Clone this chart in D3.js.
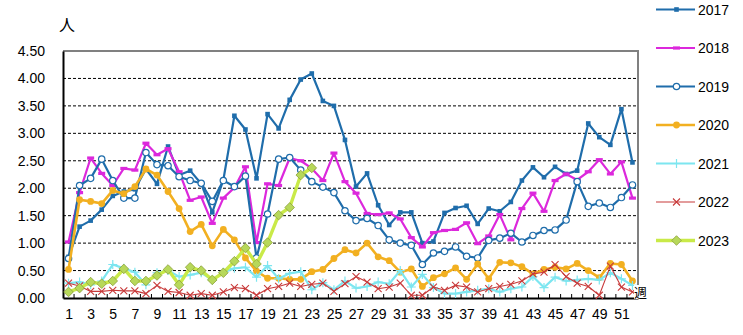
<!DOCTYPE html>
<html>
<head>
<meta charset="utf-8">
<script src="https://cdn.jsdelivr.net/npm/d3@7"></script>
<style>
  html, body { margin: 0; padding: 0; background: #fff; }
  svg { display: block; font-family: "Liberation Sans", Arial, sans-serif; }
</style>
</head>
<body>
<svg id="chart" width="743" height="335"></svg>
<script>
// Weekly counts per year (persons per week)
const weeks = d3.range(1, 53);
const weekLabels = d3.range(1, 53, 2);
const yTicks = [0, 0.5, 1, 1.5, 2, 2.5, 3, 3.5, 4, 4.5];
const years = ["2017", "2018", "2019", "2020", "2021", "2022", "2023"];

const v2017 = [0.75, 1.30, 1.41, 1.61, 1.86, 1.94, 1.98, 2.35, 2.08, 2.76, 2.24, 2.32, 2.08, 1.56, 2.15, 3.32, 3.07, 2.18, 3.35, 3.09, 3.61, 3.98, 4.09, 3.59, 3.50, 2.88, 2.03, 2.27, 1.69, 1.33, 1.56, 1.56, 1.00, 1.03, 1.55, 1.64, 1.68, 1.35, 1.63, 1.58, 1.75, 2.14, 2.38, 2.20, 2.39, 2.26, 2.32, 3.18, 2.93, 2.79, 3.44, 2.47];
const v2018 = [1.02, 1.92, 2.55, 2.27, 2.05, 2.36, 2.33, 2.82, 2.61, 2.72, 2.30, 1.78, 1.84, 1.36, 1.82, 2.01, 2.39, 1.01, 2.08, 2.05, 2.55, 2.50, 2.36, 2.14, 2.64, 2.12, 1.91, 1.54, 1.52, 1.55, 1.44, 1.10, 0.93, 1.19, 1.23, 1.25, 1.37, 0.99, 1.13, 1.52, 1.06, 1.63, 1.91, 1.58, 2.14, 2.26, 2.15, 2.30, 2.52, 2.26, 2.48, 1.82];
const v2019 = [0.72, 2.05, 2.18, 2.53, 2.14, 1.82, 1.82, 2.65, 2.43, 2.41, 2.21, 2.14, 2.09, 1.76, 2.14, 2.03, 2.22, 0.73, 1.53, 2.53, 2.56, 2.33, 2.12, 2.02, 1.92, 1.59, 1.41, 1.45, 1.32, 1.06, 1.00, 0.96, 0.61, 0.82, 0.85, 0.93, 0.76, 0.73, 1.05, 1.09, 1.18, 1.02, 1.14, 1.23, 1.24, 1.42, 2.12, 1.67, 1.73, 1.65, 1.83, 2.06];
const v2020 = [0.52, 1.79, 1.76, 1.72, 1.96, 1.90, 2.03, 2.35, 2.24, 1.94, 1.63, 1.21, 1.34, 0.95, 1.25, 1.06, 0.73, 0.49, 0.36, 0.36, 0.34, 0.34, 0.48, 0.52, 0.72, 0.88, 0.82, 1.00, 0.75, 0.68, 0.47, 0.53, 0.21, 0.37, 0.44, 0.55, 0.34, 0.62, 0.35, 0.65, 0.64, 0.57, 0.44, 0.52, 0.56, 0.53, 0.63, 0.50, 0.37, 0.63, 0.61, 0.31];
const v2021 = [0.27, 0.29, 0.24, 0.31, 0.61, 0.54, 0.47, 0.24, 0.46, 0.50, 0.39, 0.42, 0.46, 0.33, 0.47, 0.54, 0.56, 0.38, 0.59, 0.35, 0.45, 0.48, 0.15, 0.28, 0.15, 0.31, 0.18, 0.21, 0.29, 0.26, 0.50, 0.20, 0.43, 0.19, 0.08, 0.08, 0.11, 0.14, 0.17, 0.11, 0.17, 0.20, 0.39, 0.19, 0.38, 0.31, 0.33, 0.35, 0.33, 0.46, 0.35, 0.23];
const v2022 = [0.27, 0.22, 0.12, 0.12, 0.14, 0.13, 0.13, 0.08, 0.23, 0.12, 0.10, 0.05, 0.08, 0.05, 0.11, 0.19, 0.17, 0.05, 0.17, 0.21, 0.27, 0.21, 0.25, 0.27, 0.12, 0.26, 0.39, 0.29, 0.17, 0.20, 0.27, 0.05, 0.05, 0.20, 0.14, 0.23, 0.20, 0.11, 0.17, 0.21, 0.25, 0.31, 0.44, 0.47, 0.61, 0.39, 0.27, 0.21, 0.05, 0.58, 0.20, 0.11];
const v2023 = [0.11, 0.18, 0.29, 0.26, 0.31, 0.53, 0.31, 0.31, 0.41, 0.52, 0.24, 0.56, 0.50, 0.33, 0.46, 0.67, 0.91, 0.62, 1.01, 1.51, 1.65, 2.24, 2.37];

const seriesValues = [v2017, v2018, v2019, v2020, v2021, v2022, v2023];

// Line and marker styling per year
const styles = [
  { color: "#1f6dab", width: 2.2, marker: "square" },
  { color: "#dc28dc", width: 2.2, marker: "dash" },
  { color: "#1f6dab", width: 2.2, marker: "circleOpen" },
  { color: "#f2b021", width: 2.6, marker: "circle" },
  { color: "#7de6f0", width: 2.2, marker: "plus" },
  { color: "#c83a3a", width: 1.1, marker: "cross" },
  { color: "#c9ea48", width: 3.4, marker: "diamond" }
];

const svg = d3.select("#chart");
const plot = { left: 63, right: 638, top: 51, bottom: 298 };

const x = d3.scalePoint().domain(weeks).range([plot.left, plot.right]).padding(0.5);
const y = d3.scaleLinear().domain([0, 4.5]).range([plot.bottom, plot.top]);

// Dashed horizontal gridlines
svg.append("g")
  .selectAll("line")
  .data(yTicks.filter(t => t > 0 && t < 4.5))
  .join("line")
  .attr("x1", plot.left).attr("x2", plot.right)
  .attr("y1", d => y(d)).attr("y2", d => y(d))
  .attr("stroke", "#000").attr("stroke-width", 1)
  .attr("stroke-dasharray", "3,2");

// Grey top and right frame
svg.append("path")
  .attr("d", `M${plot.left},${plot.top}H${plot.right}V${plot.bottom}`)
  .attr("fill", "none").attr("stroke", "#808080").attr("stroke-width", 2);

// Y axis
const yAxis = svg.append("g")
  .attr("transform", `translate(${plot.left},0)`)
  .call(d3.axisLeft(y).tickValues(yTicks).tickFormat(d3.format(".2f")).tickSize(0).tickPadding(18));
yAxis.select(".domain").attr("stroke", "#000").attr("stroke-width", 2);
yAxis.selectAll("text").attr("font-size", 14).attr("fill", "#000");

// X axis with labels on odd weeks
const xAxis = svg.append("g")
  .attr("transform", `translate(0,${plot.bottom})`)
  .call(d3.axisBottom(x).tickValues(weekLabels).tickSize(0).tickPadding(11));
xAxis.select(".domain").attr("stroke", "#000").attr("stroke-width", 2);
xAxis.selectAll("text").attr("font-size", 14).attr("fill", "#000");

// Small inward tick marks between weeks
const step = x.step();
svg.append("g")
  .selectAll("line")
  .data(weeks.slice(0, -1))
  .join("line")
  .attr("x1", d => x(d) + step / 2).attr("x2", d => x(d) + step / 2)
  .attr("y1", plot.bottom).attr("y2", plot.bottom - 4)
  .attr("stroke", "#000").attr("stroke-width", 1);

// Marker drawing
function drawMarker(g, type, color) {
  switch (type) {
    case "square":
      g.append("rect").attr("x", -2.3).attr("y", -2.3).attr("width", 4.6).attr("height", 4.6).attr("fill", color);
      break;
    case "dash":
      g.append("rect").attr("x", -3.5).attr("y", -1.6).attr("width", 7).attr("height", 3.2).attr("fill", color);
      break;
    case "circleOpen":
      g.append("circle").attr("r", 3.2).attr("fill", "#fff").attr("stroke", color).attr("stroke-width", 1.2);
      break;
    case "circle":
      g.append("circle").attr("r", 3.4).attr("fill", color);
      break;
    case "plus":
      g.append("path").attr("d", "M-4.5,0H4.5M0,-4.5V4.5").attr("stroke", color).attr("stroke-width", 1.2);
      break;
    case "cross":
      g.append("path").attr("d", "M-3.5,-3.5L3.5,3.5M-3.5,3.5L3.5,-3.5").attr("stroke", color).attr("stroke-width", 1.1);
      break;
    case "diamond":
      g.append("path").attr("d", "M0,-4.8L4.8,0L0,4.8L-4.8,0Z").attr("fill", "#b7d85a").attr("stroke", "#8c9f3a").attr("stroke-width", 0.8);
      break;
  }
}

const line = d3.line().x(d => x(d.week)).y(d => y(d.value));

seriesValues.forEach((vals, i) => {
  const st = styles[i];
  const pts = vals.map((v, k) => ({ week: weeks[k], value: v }));
  const g = svg.append("g").attr("class", "series-" + years[i]);
  g.append("path").datum(pts).attr("d", line)
    .attr("fill", "none").attr("stroke", st.color).attr("stroke-width", st.width)
    .attr("stroke-linejoin", "round");
  g.selectAll("g.m").data(pts).join("g").attr("class", "m")
    .attr("transform", d => `translate(${x(d.week)},${y(d.value)})`)
    .each(function () { drawMarker(d3.select(this), st.marker, st.color); });
});

// Axis captions
svg.append("text").attr("x", 67).attr("y", 31).attr("text-anchor", "middle")
  .attr("font-size", 16).attr("font-family", "'Noto Sans CJK JP', sans-serif").text("人");
svg.append("rect").attr("x", 634).attr("y", 285).attr("width", 14).attr("height", 14).attr("fill", "#fff");
svg.append("text").attr("x", 634).attr("y", 297)
  .attr("font-size", 13).attr("font-family", "'Noto Sans CJK JP', sans-serif").text("週");

// Legend
const legend = svg.append("g");
years.forEach((yr, i) => {
  const st = styles[i];
  const ly = 9.5 + i * 38.5;
  const lg = legend.append("g").attr("transform", `translate(0,${ly})`);
  lg.append("line").attr("x1", 656).attr("x2", 695).attr("y1", 0).attr("y2", 0)
    .attr("stroke", st.color).attr("stroke-width", st.width);
  const mg = lg.append("g").attr("transform", "translate(676.5,0)");
  drawMarker(mg, st.marker, st.color);
  lg.append("text").attr("x", 698).attr("y", 0).attr("dy", "0.36em")
    .attr("font-size", 14).attr("fill", "#000").text(yr);
});
</script>
</body>
</html>
